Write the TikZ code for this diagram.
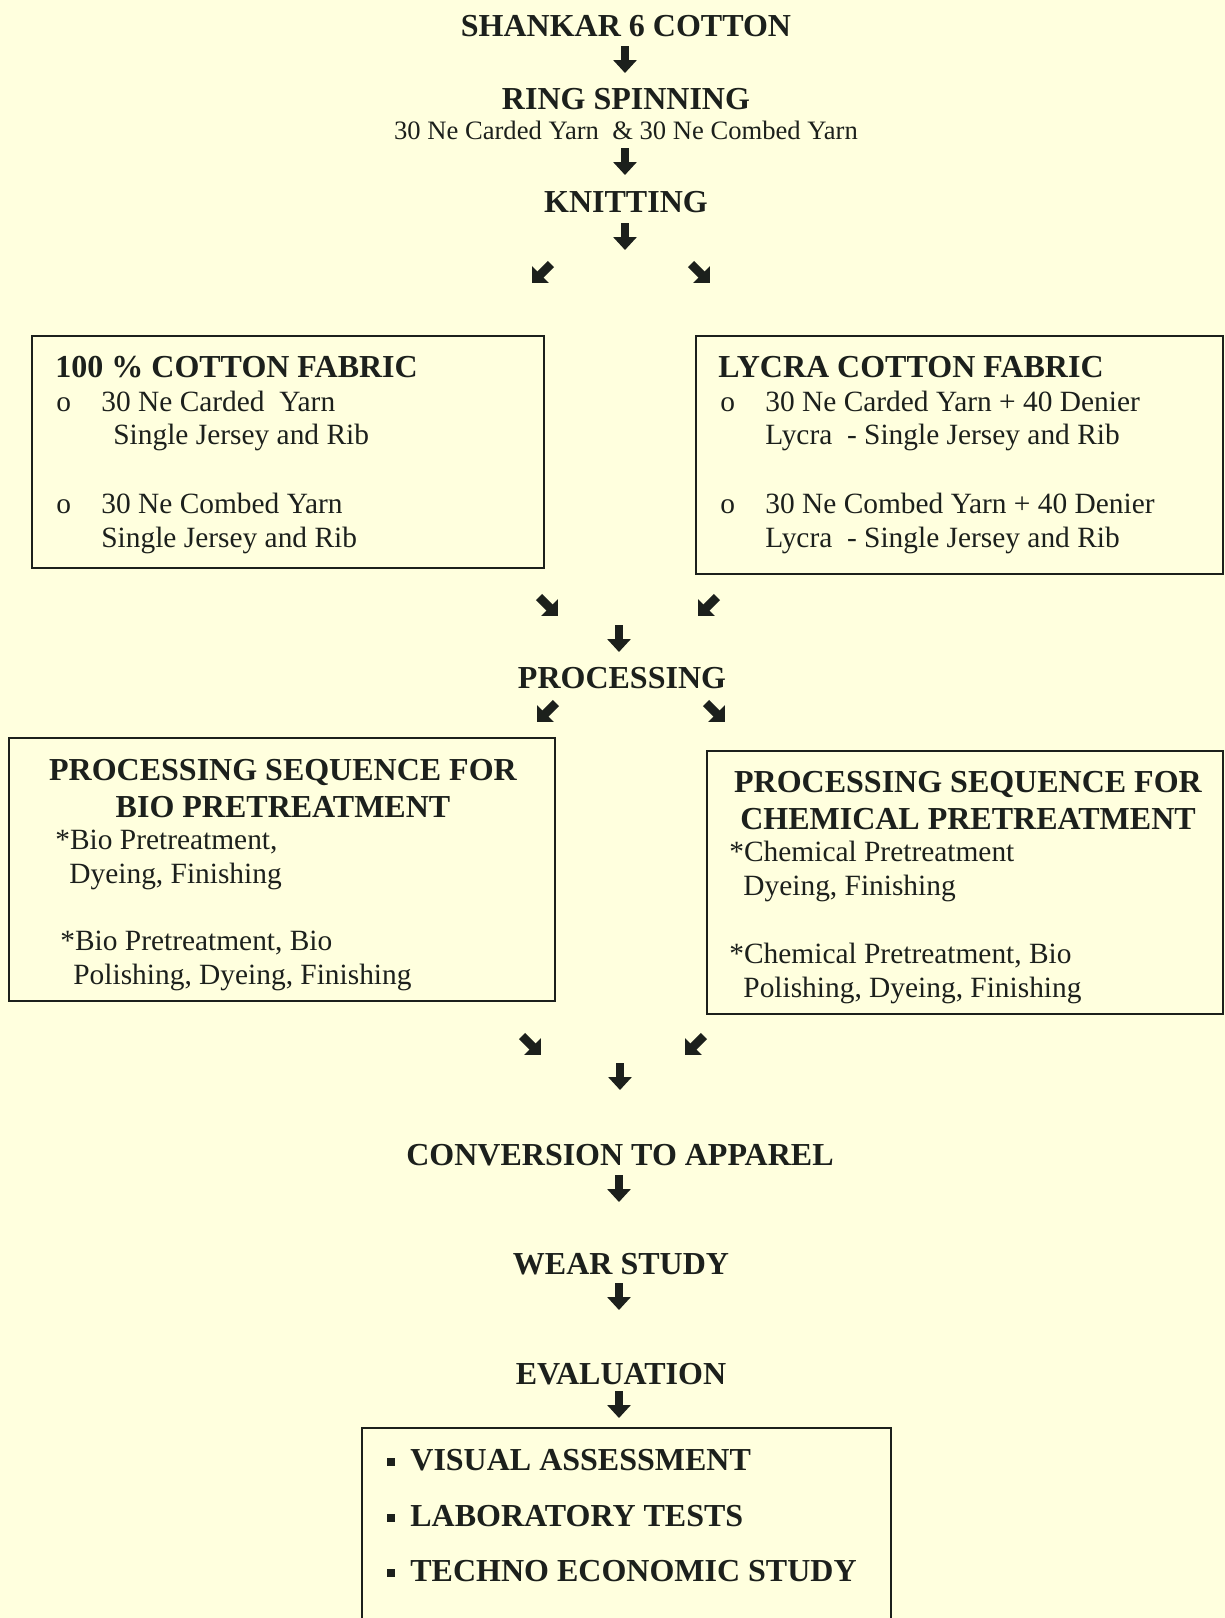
\documentclass[tikz,border=0pt]{standalone}
\usepackage{fontspec}
\setmainfont{Liberation Serif}
\usetikzlibrary{arrows.meta}
\definecolor{paper}{RGB}{255,255,222}
\definecolor{ink}{RGB}{28,32,28}
\begin{document}
\begin{tikzpicture}[x=0.5pt,y=-0.5pt,
  hd/.style={font=\fontsize{16}{19}\selectfont\bfseries, text=ink, inner sep=0pt},
  bd/.style={font=\fontsize{14.7}{17}\selectfont, text=ink, inner sep=0pt},
  sub/.style={font=\fontsize{13.3}{16}\selectfont, text=ink, inner sep=0pt},
  frame/.style={draw=ink, line width=1pt, inner sep=0pt, fill=none},
  garrow/.style={draw=ink, line width=4pt, -{Triangle[width=11.5pt,length=6.5pt]}},
  dgarrow/.style={draw=ink, line width=4.4pt, -{Triangle[width=11.5pt,length=6pt]}},
  sq/.style={fill=ink, draw=none, minimum size=3.6pt, inner sep=0pt}
]
\fill[paper] (0,0) rectangle (1225,1618);
\useasboundingbox (0,0) rectangle (1225,1618);

% top chain
\node[hd, anchor=base] (shankar) at (626,36) {SHANKAR 6 COTTON};
\node[hd, anchor=base] (ring) at (626,109) {RING SPINNING};
\node[sub, anchor=base] (yarns) at (626,139) {30 Ne Carded Yarn \ \& 30 Ne Combed Yarn};
\node[hd, anchor=base] (knit) at (626,212) {KNITTING};

\coordinate (a1s) at (625,46); \coordinate (a1e) at (625,73);
\coordinate (a2s) at (625,148); \coordinate (a2e) at (625,175);
\coordinate (a3s) at (625,223); \coordinate (a3e) at (625,250);
\draw[garrow] (a1s) -- (a1e);
\draw[garrow] (a2s) -- (a2e);
\draw[garrow] (a3s) -- (a3e);

\coordinate (d1s) at (551,264); \coordinate (d1e) at (532,283);
\coordinate (d2s) at (691,264); \coordinate (d2e) at (710,283);
\draw[dgarrow] (d1s) -- (d1e);
\draw[dgarrow] (d2s) -- (d2e);

% fabric boxes
\node[frame, minimum width=256pt, minimum height=116pt] (cotbox) at (288,452) {};
\node[hd, anchor=base west] (cothd) at (55,377) {100 \% COTTON FABRIC};
\node[bd, anchor=base west] (cotb1) at (56,411) {o};
\node[bd, anchor=base west] (cot1) at (101,411) {30 Ne Carded \ Yarn};
\node[bd, anchor=base west] (cot2) at (113,444) {Single Jersey and Rib};
\node[bd, anchor=base west] (cotb2) at (56,513) {o};
\node[bd, anchor=base west] (cot3) at (101,513) {30 Ne Combed Yarn};
\node[bd, anchor=base west] (cot4) at (101,547) {Single Jersey and Rib};

\node[frame, minimum width=263.5pt, minimum height=119pt] (lycbox) at (959.5,455) {};
\node[hd, anchor=base west] (lychd) at (718,377) {LYCRA COTTON FABRIC};
\node[bd, anchor=base west] (lycb1) at (720,411) {o};
\node[bd, anchor=base west] (lyc1) at (765,411) {30 Ne Carded Yarn + 40 Denier};
\node[bd, anchor=base west] (lyc2) at (765,444) {Lycra \ - Single Jersey and Rib};
\node[bd, anchor=base west] (lycb2) at (720,513) {o};
\node[bd, anchor=base west] (lyc3) at (765,513) {30 Ne Combed Yarn + 40 Denier};
\node[bd, anchor=base west] (lyc4) at (765,547) {Lycra \ - Single Jersey and Rib};

% to processing
\coordinate (d3s) at (539,597); \coordinate (d3e) at (558,616);
\coordinate (d4s) at (717,597); \coordinate (d4e) at (698,616);
\draw[dgarrow] (d3s) -- (d3e);
\draw[dgarrow] (d4s) -- (d4e);
\coordinate (a4s) at (619,625); \coordinate (a4e) at (619,652);
\draw[garrow] (a4s) -- (a4e);
\node[hd, anchor=base] (proc) at (622,688) {PROCESSING};
\coordinate (d5s) at (556,703); \coordinate (d5e) at (537,722);
\coordinate (d6s) at (706,703); \coordinate (d6e) at (725,722);
\draw[dgarrow] (d5s) -- (d5e);
\draw[dgarrow] (d6s) -- (d6e);

% processing boxes
\node[frame, minimum width=273pt, minimum height=131.5pt] (biobox) at (282,869.5) {};
\node[hd, anchor=base] (biohd1) at (283,780) {PROCESSING SEQUENCE FOR};
\node[hd, anchor=base] (biohd2) at (283,817) {BIO PRETREATMENT};
\node[bd, anchor=base west] (bio1) at (55,849) {*Bio Pretreatment,};
\node[bd, anchor=base west] (bio2) at (69,883) {Dyeing, Finishing};
\node[bd, anchor=base west] (bio3) at (60,950) {*Bio Pretreatment, Bio};
\node[bd, anchor=base west] (bio4) at (73,984) {Polishing, Dyeing, Finishing};

\node[frame, minimum width=258pt, minimum height=131.5pt] (chembox) at (965,882.5) {};
\node[hd, anchor=base] (chemhd1) at (968,792) {PROCESSING SEQUENCE FOR};
\node[hd, anchor=base] (chemhd2) at (968,829) {CHEMICAL PRETREATMENT};
\node[bd, anchor=base west] (chem1) at (729,861) {*Chemical Pretreatment};
\node[bd, anchor=base west] (chem2) at (743,895) {Dyeing, Finishing};
\node[bd, anchor=base west] (chem3) at (729,963) {*Chemical Pretreatment, Bio};
\node[bd, anchor=base west] (chem4) at (743,997) {Polishing, Dyeing, Finishing};

% to conversion
\coordinate (d7s) at (522,1036); \coordinate (d7e) at (541,1055);
\coordinate (d8s) at (704,1036); \coordinate (d8e) at (685,1055);
\draw[dgarrow] (d7s) -- (d7e);
\draw[dgarrow] (d8s) -- (d8e);
\coordinate (a5s) at (620,1063); \coordinate (a5e) at (620,1090);
\draw[garrow] (a5s) -- (a5e);

\node[hd, anchor=base] (conv) at (620,1165) {CONVERSION TO APPAREL};
\coordinate (a6s) at (619,1175); \coordinate (a6e) at (619,1202);
\draw[garrow] (a6s) -- (a6e);
\node[hd, anchor=base] (wear) at (621,1274) {WEAR STUDY};
\coordinate (a7s) at (619,1283); \coordinate (a7e) at (619,1310);
\draw[garrow] (a7s) -- (a7e);
\node[hd, anchor=base] (eval) at (621,1384) {EVALUATION};
\coordinate (a8s) at (619,1391); \coordinate (a8e) at (619,1418);
\draw[garrow] (a8s) -- (a8e);

% evaluation box
\node[frame, minimum width=264.5pt, minimum height=101pt] (evbox) at (626.5,1529) {};
\node[sq] (evb1) at (391,1462) {};
\node[hd, anchor=base west] (ev1) at (410,1470) {VISUAL ASSESSMENT};
\node[sq] (evb2) at (391,1518) {};
\node[hd, anchor=base west] (ev2) at (410,1526) {LABORATORY TESTS};
\node[sq] (evb3) at (391,1573) {};
\node[hd, anchor=base west] (ev3) at (410,1581) {TECHNO ECONOMIC STUDY};
\end{tikzpicture}
\end{document}
